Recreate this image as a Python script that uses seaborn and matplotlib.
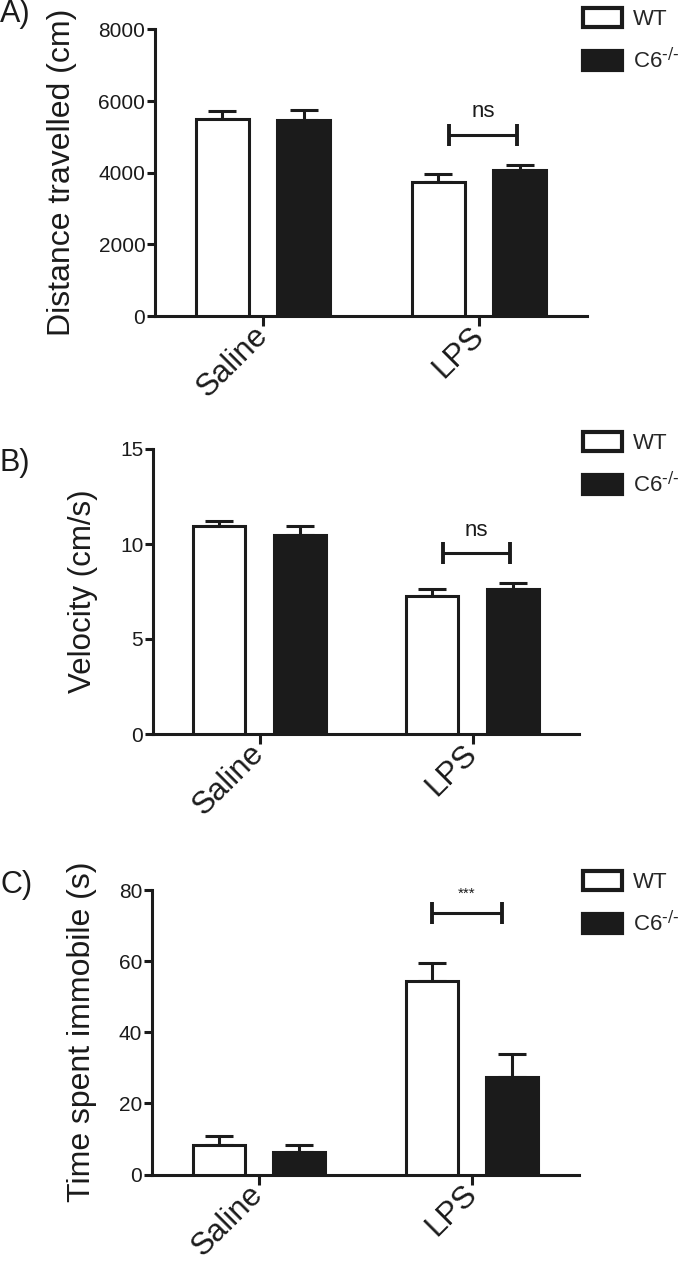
import numpy as np
import pandas as pd
import matplotlib
matplotlib.use("Agg")
import matplotlib.pyplot as plt
import seaborn as sns
from matplotlib.patches import Patch

# ---------------- data ----------------
treatments = ["Saline", "LPS"]
genotypes = ["WT", "C6"]
legend_labels = ["WT", r"C6$^{\text{-/-}}$"]

dist_wt = [5500, 3750]
dist_wt_sem = [220, 210]
dist_c6 = [5470, 4070]
dist_c6_sem = [290, 160]

vel_wt = [10.95, 7.26]
vel_wt_sem = [0.28, 0.37]
vel_c6 = [10.49, 7.63]
vel_c6_sem = [0.47, 0.30]

imm_wt = [8.3, 54.5]
imm_wt_sem = [2.4, 5.0]
imm_c6 = [6.4, 27.3]
imm_c6_sem = [2.0, 6.7]

panel_letters = ["A)", "B)", "C)"]
ylabels = ["Distance travelled (cm)", "Velocity (cm/s)", "Time spent immobile (s)"]
yticks_list = [[0, 2000, 4000, 6000, 8000], [0, 5, 10, 15], [0, 20, 40, 60, 80]]
sig_labels = ["ns", "ns", "***"]
bracket_y = [5060, 9.53, 73.5]
sig_text_y = [5700, 10.7, 79]

# ---------------- style ----------------
sns.set_style("ticks")
plt.rcParams["font.family"] = ["Liberation Sans", "DejaVu Sans"]
plt.rcParams["mathtext.default"] = "regular"
narrow = ["Liberation Sans Narrow", "Liberation Sans", "DejaVu Sans"]
INK = "#1b1b1b"
LW = 2.2

W, H = 685, 1267
fig = plt.figure(figsize=(W / 100, H / 100), dpi=100)

# axes boxes in pixel coords: left, right, top, bottom
boxes = [(155, 587, 29.5, 316), (153, 579, 449, 734), (152, 579, 890, 1174.5)]
letter_pos = [(0, 14), (0, 463), (0, 885)]
legend_top = [8, 432, 871]
ylabel_x = [62, 83, 82]
ylabel_size = [23, 22.5, 23]
bracket_offsets = [(0.05, -0.01), (0.05, -0.01), (0.0, -0.05)]

panels = [
    (dist_wt, dist_wt_sem, dist_c6, dist_c6_sem),
    (vel_wt, vel_wt_sem, vel_c6, vel_c6_sem),
    (imm_wt, imm_wt_sem, imm_c6, imm_c6_sem),
]

for i, (wt, wt_sem, c6, c6_sem) in enumerate(panels):
    l, r, t, b = boxes[i]
    ax = fig.add_axes([l / W, 1 - b / H, (r - l) / W, (b - t) / H])
    df = pd.DataFrame({
        "treatment": treatments * 2,
        "genotype": [genotypes[0]] * 2 + [genotypes[1]] * 2,
        "value": list(wt) + list(c6),
    })
    sems = {genotypes[0]: wt_sem, genotypes[1]: c6_sem}
    sns.barplot(data=df, x="treatment", y="value", hue="genotype",
                order=treatments, hue_order=genotypes,
                palette={genotypes[0]: "white", genotypes[1]: INK},
                saturation=1, errorbar=None, width=0.752, gap=0.35,
                edgecolor=INK, linewidth=LW, legend=False, ax=ax, zorder=3)

    centers = {}
    for g, cont in zip(genotypes, ax.containers):
        for j, bar in enumerate(cont):
            xc = bar.get_x() + bar.get_width() / 2
            centers[(g, j)] = xc
            ax.errorbar(xc, bar.get_height(), yerr=[[0], [sems[g][j]]],
                        fmt="none", ecolor=INK, elinewidth=LW, capsize=10.4,
                        capthick=LW, zorder=2, clip_on=False)

    # significance bracket over LPS
    ol, orr = bracket_offsets[i]
    x0 = centers[(genotypes[0], 1)] + ol
    x1 = centers[(genotypes[1], 1)] + orr
    ax.errorbar((x0 + x1) / 2, bracket_y[i], xerr=(x1 - x0) / 2, fmt="none",
                ecolor=INK, elinewidth=LW, capsize=7.6, capthick=LW + 0.6,
                clip_on=False, zorder=4)
    if sig_labels[i] == "***":
        ax.text((x0 + x1) / 2, sig_text_y[i], sig_labels[i], ha="center",
                va="center", fontsize=11, color=INK, family=narrow, clip_on=False)
    else:
        ax.text((x0 + x1) / 2, sig_text_y[i], sig_labels[i], ha="center",
                va="center", fontsize=16, color=INK, family=narrow)

    yt = yticks_list[i]
    ax.set_ylim(yt[0], yt[-1])
    ax.set_yticks(yt)
    ax.set_xlim(-0.5, 1.5)
    sns.despine(ax=ax)
    for s in ["left", "bottom"]:
        ax.spines[s].set_linewidth(LW)
        ax.spines[s].set_color(INK)
    ax.tick_params(axis="y", length=6, width=LW, color=INK, pad=1,
                   labelsize=15, labelcolor=INK)
    ax.tick_params(axis="x", length=7, width=LW, color=INK, pad=4,
                   labelsize=22.5, labelcolor=INK)
    for lab in ax.get_yticklabels():
        lab.set_family(narrow)
    ax.set_xticks(range(len(treatments)))
    ax.set_xticklabels(treatments, rotation=45, ha="right", va="center",
                       rotation_mode="anchor")
    ax.set_xlabel("")
    ax.set_ylabel(ylabels[i], fontsize=ylabel_size[i], color=INK)
    ax.yaxis.set_label_coords((ylabel_x[i] - l) / (r - l), 0.5)
    ax.yaxis.label.set_va("center")

    # legend
    handles = [Patch(facecolor="white", edgecolor=INK, linewidth=3),
               Patch(facecolor=INK, edgecolor=INK, linewidth=3)]
    ax.legend(handles, legend_labels, loc="upper left",
              bbox_to_anchor=(583 / W, 1 - legend_top[i] / H),
              bbox_transform=fig.transFigure, frameon=False, borderpad=0,
              borderaxespad=0, handlelength=1.75, handleheight=0.92,
              handletextpad=0.5, labelspacing=0.8,
              prop={"family": narrow, "size": 16})

    lx, ly = letter_pos[i]
    fig.text(lx / W, 1 - ly / H, panel_letters[i], ha="left", va="center",
             fontsize=22, color=INK, family=narrow)

fig.savefig("out.png", dpi=100)
